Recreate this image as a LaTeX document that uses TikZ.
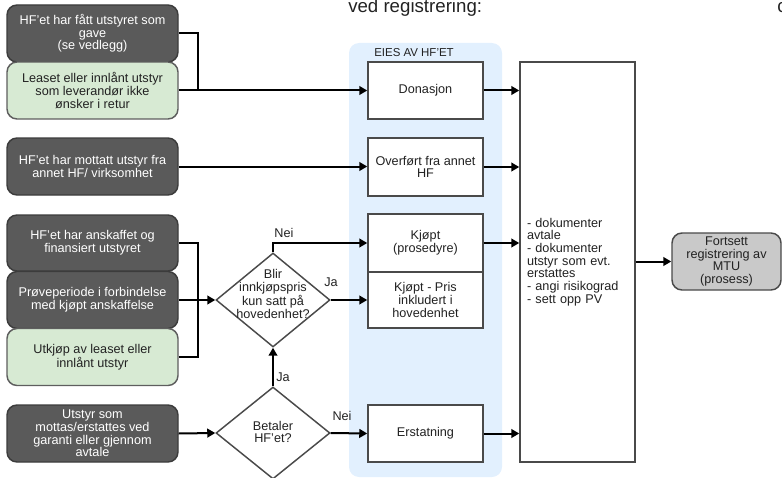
\documentclass[tikz,border=0pt]{standalone}
\usepackage{fontspec}
\setmainfont{Liberation Sans}
\usetikzlibrary{shapes.geometric,arrows.meta}
\definecolor{darkfill}{HTML}{5A5A5A}
\definecolor{darkborder}{HTML}{3C3C3C}
\definecolor{greenfill}{HTML}{D7EAD3}
\definecolor{greenborder}{HTML}{5E5E5E}
\definecolor{boxborder}{HTML}{4A4A4A}
\definecolor{bluefill}{HTML}{E2F0FE}
\definecolor{grayfill}{HTML}{C9C9C9}
\definecolor{txt}{HTML}{222222}
\newcommand\fsz{\fontsize{9.5}{9.5}\selectfont}
\begin{document}
\begin{tikzpicture}[x=0.75pt,y=-0.75pt,
  base/.style={line width=1.1pt, align=center, font=\fsz, inner sep=1pt},
  darkbox/.style={base, draw=darkborder, fill=darkfill, text=white, rounded corners=7.5pt, minimum width=171*0.75pt},
  greenbox/.style={base, draw=greenborder, fill=greenfill, text=txt, rounded corners=7.5pt, minimum width=171*0.75pt},
  wbox/.style={base, draw=boxborder, fill=white, text=txt, minimum width=115*0.75pt},
  dia/.style={diamond, draw=boxborder, fill=white, line width=1.1pt, inner sep=0pt, minimum width=114*0.75pt},
  lbl/.style={font=\fsz, text=txt, inner sep=0pt, align=center},
  plainline/.style={line width=1.5pt},
  conn/.style={line width=1.5pt, -{Triangle[length=6pt,width=6.5pt]}}
]
\useasboundingbox (0,0) rectangle (782,478);

% top texts
\node[anchor=base west, font=\fontsize{14}{16}\selectfont, text=txt, inner sep=0pt] (top) at (348,12.3) {ved registrering:};
\node[anchor=base west, font=\fontsize{14}{16}\selectfont, text=txt, inner sep=0pt] (topc) at (777,12.3) {c};

% container
\node[fill=bluefill, rounded corners=7.5pt, minimum width=153*0.75pt, minimum height=434*0.75pt, inner sep=0pt] (cont) at (425.5,260) {};
\node[anchor=west, font=\fontsize{8.6}{10}\selectfont, text=txt, inner sep=0pt] (eies) at (374,53) {EIES AV HF'ET};

% left boxes
\node[darkbox, minimum height=57*0.75pt] (b1) at (92.5,33.5) {HF'et har fått utstyret som\\gave\\(se vedlegg)};
\node[greenbox, minimum height=57*0.75pt] (b2) at (92.5,90.5) {Leaset eller innlånt utstyr\\som leverandør ikke\\ønsker i retur};
\node[darkbox, minimum height=57*0.75pt] (b3) at (92.5,166.5) {HF'et har mottatt utstyr fra\\annet HF/ virksomhet};
\node[darkbox, minimum height=56*0.75pt] (b4) at (92.5,243) {HF'et har anskaffet og\\finansiert utstyret};
\node[darkbox, minimum height=57*0.75pt] (b5) at (92.5,300) {Prøveperiode i forbindelse\\med kjøpt anskaffelse};
\node[greenbox, minimum height=57*0.75pt] (b6) at (92.5,357) {Utkjøp av leaset eller\\innlånt utstyr};
\node[darkbox, minimum height=57*0.75pt] (b7) at (92.5,433.5) {Utstyr som\\mottas/erstattes ved\\garanti eller gjennom\\avtale};

% diamonds
\node[dia, minimum height=94*0.75pt] (d1) at (273,300) {};
\node[lbl] (d1t) at (273,294) {Blir\\innkjøpspris\\kun satt på\\hovedenhet?};
\node[dia, minimum height=92*0.75pt] (d2) at (273,433) {};
\node[lbl] (d2t) at (273,432) {Betaler\\HF'et?};

% middle boxes
\node[wbox, minimum height=57*0.75pt] (don) at (425.5,90.5) {Donasjon};
\node[wbox, minimum height=58*0.75pt] (ovf) at (425.5,167) {Overført fra annet\\HF};
\node[wbox, minimum height=58*0.75pt] (kjp) at (425.5,243) {Kjøpt\\(prosedyre)};
\node[wbox, minimum height=56*0.75pt] (kpris) at (425.5,300) {Kjøpt - Pris\\inkludert i\\hovedenhet};
\node[wbox, minimum height=57*0.75pt] (erst) at (425.5,433.5) {Erstatning};

% big box
\node[base, draw=boxborder, fill=white, text=txt, minimum width=115*0.75pt, minimum height=400*0.75pt, text width=101*0.75pt, align=left, inner sep=0pt] (big) at (577.5,262)
  {- dokumenter\\avtale\\- dokumenter\\utstyr som evt.\\erstattes\\- angi risikograd\\- sett opp PV};

% end box
\node[base, draw=boxborder, fill=grayfill, text=txt, rounded corners=7.5pt, minimum width=109*0.75pt, minimum height=57*0.75pt] (fort) at (726.5,261.5) {Fortsett\\registrering av\\MTU\\(prosess)};

% connectors
\coordinate (j1) at (198,90.5);
\draw[plainline] (b1.east) -| (j1);
\draw[conn] (b2.east) -- (don.west);
\draw[conn] (b3.east) -- (b3.east -| ovf.west);
\coordinate (j2) at (198,300);
\draw[plainline] (b4.east) -| (j2);
\draw[plainline] (b6.east) -| (j2);
\draw[conn] (b5.east) -- (d1.west);
\draw[conn] (d1.north) |- (kjp.west);
\draw[conn] (d1.east) -- (kpris.west);
\draw[conn] (b7.east) -- (d2.west);
\draw[conn] (d2.north) -- (d1.south);
\draw[conn] (d2.east) -- (erst.west);
\draw[conn] (don.east) -- (don.east -| big.west);
\draw[conn] (ovf.east) -- (ovf.east -| big.west);
\draw[conn] (kjp.east) -- (kjp.east -| big.west);
\draw[conn] (erst.east) -- (erst.east -| big.west);
\draw[conn] (big.east |- fort.west) -- (fort.west);

% labels
\node[lbl] (nei1) at (284,233) {Nei};
\node[lbl] (ja1) at (331,282) {Ja};
\node[lbl] (ja2) at (283,377) {Ja};
\node[lbl] (nei2) at (342,416) {Nei};
\end{tikzpicture}
\end{document}
